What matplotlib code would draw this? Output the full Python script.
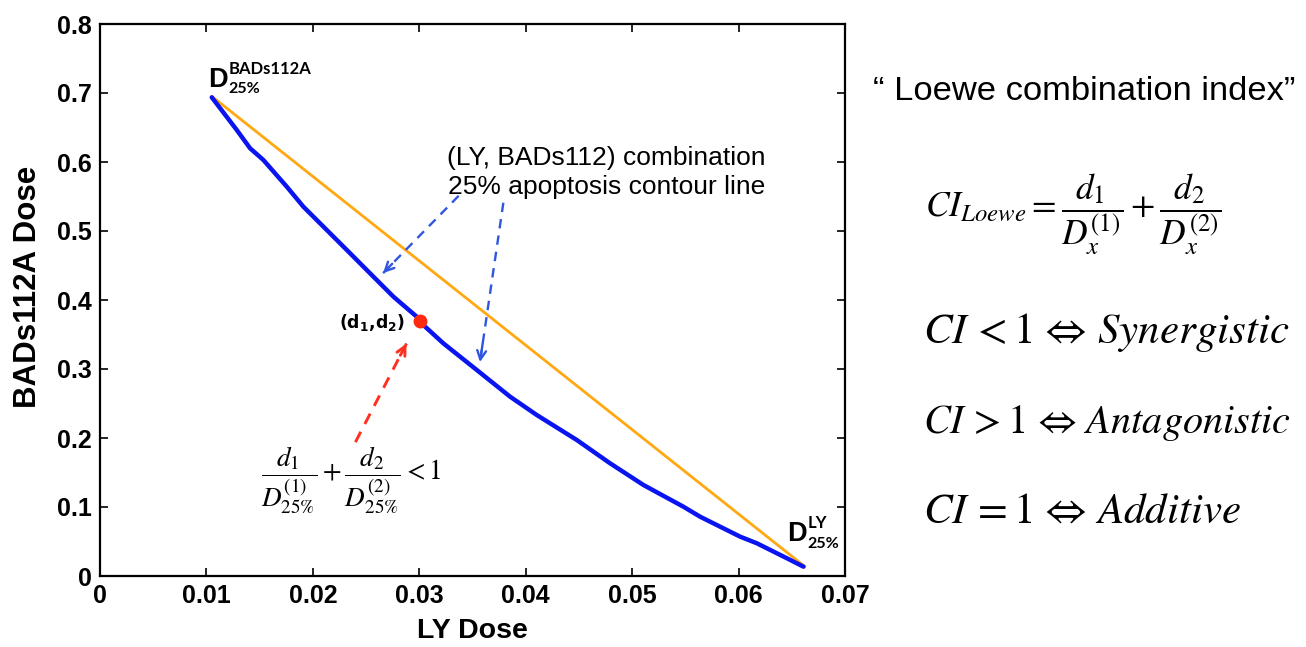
import matplotlib
matplotlib.use("Agg")
import matplotlib.pyplot as plt

# ---- data ----
contour_x = [0.01050, 0.01285, 0.01410, 0.01535, 0.01755, 0.01911, 0.02131, 0.02350,
             0.02569, 0.02757, 0.02976, 0.03014, 0.03226, 0.03540, 0.03853, 0.04104,
             0.04480, 0.04793, 0.05106, 0.05482, 0.05639, 0.06015, 0.06172, 0.06454, 0.06610]
contour_y = [0.6938, 0.6464, 0.6199, 0.6029, 0.5642, 0.5352, 0.5014, 0.4677,
             0.4338, 0.4048, 0.3758, 0.3671, 0.3372, 0.2986, 0.2599, 0.2333,
             0.1971, 0.1633, 0.1319, 0.1004, 0.0859, 0.0570, 0.0474, 0.0257, 0.0135]
additive_x = [0.0106, 0.0662]
additive_y = [0.694, 0.014]
point_d = (0.0301, 0.370)

x_ticks = [0, 0.01, 0.02, 0.03, 0.04, 0.05, 0.06, 0.07]
x_tick_labels = ["0", "0.01", "0.02", "0.03", "0.04", "0.05", "0.06", "0.07"]
y_ticks = [0, 0.1, 0.2, 0.3, 0.4, 0.5, 0.6, 0.7, 0.8]
y_tick_labels = ["0", "0.1", "0.2", "0.3", "0.4", "0.5", "0.6", "0.7", "0.8"]

plt.rcParams['font.family'] = ['Liberation Sans', 'DejaVu Sans']

fig = plt.figure(figsize=(13.06, 6.47), dpi=100)
ax = fig.add_axes([100/1306, 71/647, 745/1306, 552/647])

ax.plot(additive_x, additive_y, color='#ffa812', lw=2.0, zorder=2)
ax.plot(contour_x, contour_y, color='#0a14f0', lw=3.2, zorder=3, solid_capstyle='round')
ax.plot([point_d[0]], [point_d[1]], 'o', color='#ff2a10', ms=9, zorder=4)

ax.set_xlim(0, 0.07)
ax.set_ylim(0, 0.8)
ax.set_xticks(x_ticks)
ax.set_xticklabels(x_tick_labels)
ax.set_yticks(y_ticks)
ax.set_yticklabels(y_tick_labels)
ax.tick_params(direction='in', length=6, width=1.2, top=True, right=True,
               labelsize=18, pad=6)
for lab in ax.get_xticklabels() + ax.get_yticklabels():
    lab.set_fontweight('bold')
for s in ax.spines.values():
    s.set_linewidth(1.6)
ax.set_xlabel("LY Dose", fontsize=20.5, fontweight='bold', labelpad=7)
ax.set_ylabel("BADs112A Dose", fontsize=22.5, fontweight='bold')
ax.yaxis.set_label_coords(-0.076, 0.523)

# D labels
def dlabel(x, y, sup, sub, dx, up, down):
    ax.annotate("D", (x, y), fontsize=19.5, fontweight='bold', va='baseline', ha='left')
    ax.annotate(sup, (x, y), xytext=(dx, up), textcoords='offset points',
                fontsize=12, fontweight='bold', va='baseline', ha='left',
                family=['Lato', 'DejaVu Sans'])
    ax.annotate(sub, (x, y), xytext=(dx, -down), textcoords='offset points',
                fontsize=11.5, fontweight='bold', va='baseline', ha='left',
                family=['Lato', 'DejaVu Sans'])

dlabel(0.01015, 0.7087, "BADs112A", "25%", 15, 9, 4.3)
dlabel(0.06457, 0.0507, "LY", "25%", 14.5, 9.5, 5)

ax.text(0.0287, 0.367,
        r'$\mathbf{(d}_{\mathbf{1}}\mathbf{{,}d}_{\mathbf{2}}\mathbf{)}$',
        math_fontfamily='dejavusans', fontsize=12.5, ha='right', va='center')

ax.text(0.04756, 0.585, "(LY, BADs112) combination\n25% apoptosis contour line",
        fontsize=19, ha='center', va='center', linespacing=1.3)


def dashed_arrow(start, end, color, lw):
    ax.plot([start[0], end[0]], [start[1], end[1]], color=color, lw=lw,
            linestyle=(0, (4, 3)), zorder=5)
    back = (end[0] - 0.12 * (end[0] - start[0]), end[1] - 0.12 * (end[1] - start[1]))
    ax.annotate("", xy=end, xytext=back,
                arrowprops=dict(arrowstyle='->', color=color, lw=lw,
                                mutation_scale=16, shrinkA=0, shrinkB=0), zorder=5)


dashed_arrow((0.0337, 0.551), (0.0266, 0.439), '#3056e0', 1.7)
dashed_arrow((0.0379, 0.541), (0.0357, 0.310), '#3056e0', 1.7)
dashed_arrow((0.0240, 0.194), (0.0288, 0.337), '#ff3020', 2.1)

ax.text(0.0236, 0.139,
        r'$\dfrac{d_1}{D^{(1)}_{25\%}}+\dfrac{d_2}{D^{(2)}_{25\%}}<1$',
        math_fontfamily='stix', fontsize=19.5, ha='center', va='center')

# right side text
fig.text(873/1306, (647-100)/647, "\u201c Loewe combination index\u201d", fontsize=24.8,
         ha='left', va='baseline')
fig.text(925/1306, (647-218)/647,
         r'$CI_{Loewe}=\dfrac{d_1}{D^{(1)}_x}+\dfrac{d_2}{D^{(2)}_x}$',
         math_fontfamily='stix', fontsize=25.5, ha='left', va='baseline')
fig.text(923/1306, (647-343)/647, r'$CI\,<1\,\Leftrightarrow\,Synergistic$',
         math_fontfamily='stix', fontsize=31, ha='left', va='baseline')
fig.text(923/1306, (647-433)/647, r'$CI\,>1\,\Leftrightarrow\,Antagonistic$',
         math_fontfamily='stix', fontsize=29, ha='left', va='baseline')
fig.text(923/1306, (647-523)/647, r'$CI\,=1\,\Leftrightarrow\,Additive$',
         math_fontfamily='stix', fontsize=31, ha='left', va='baseline')

fig.savefig("out.png", dpi=100)
